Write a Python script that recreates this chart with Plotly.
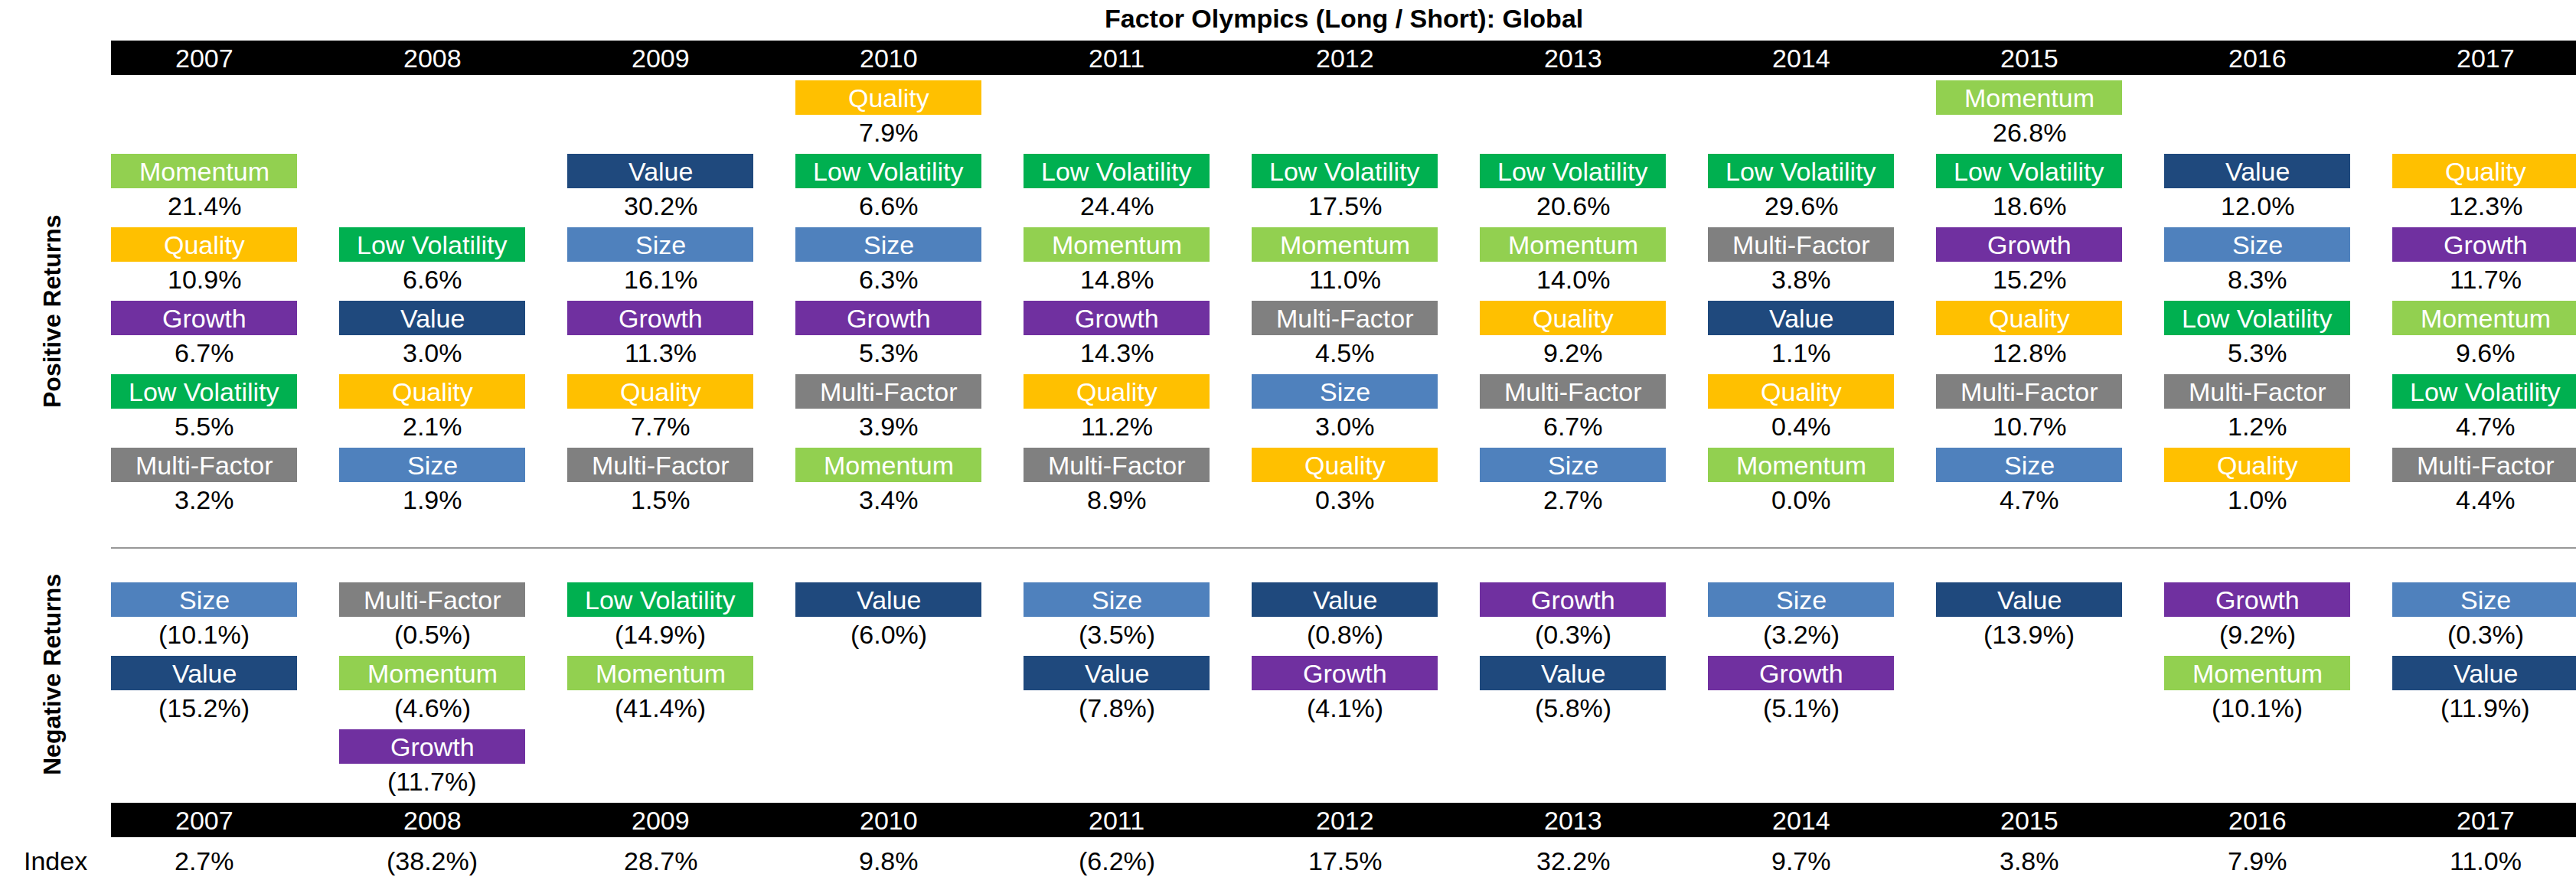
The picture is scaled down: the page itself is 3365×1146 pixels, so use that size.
import plotly.graph_objects as go

# ---------------- data ----------------
years = [2007, 2008, 2009, 2010, 2011, 2012, 2013, 2014, 2015, 2016, 2017]

pos_factors = [
    ["Momentum", "Quality", "Growth", "Low Volatility", "Multi-Factor"],
    ["Low Volatility", "Value", "Quality", "Size"],
    ["Value", "Size", "Growth", "Quality", "Multi-Factor"],
    ["Quality", "Low Volatility", "Size", "Growth", "Multi-Factor", "Momentum"],
    ["Low Volatility", "Momentum", "Growth", "Quality", "Multi-Factor"],
    ["Low Volatility", "Momentum", "Multi-Factor", "Size", "Quality"],
    ["Low Volatility", "Momentum", "Quality", "Multi-Factor", "Size"],
    ["Low Volatility", "Multi-Factor", "Value", "Quality", "Momentum"],
    ["Momentum", "Low Volatility", "Growth", "Quality", "Multi-Factor", "Size"],
    ["Value", "Size", "Low Volatility", "Multi-Factor", "Quality"],
    ["Quality", "Growth", "Momentum", "Low Volatility", "Multi-Factor"],
]
pos_values = [
    [21.4, 10.9, 6.7, 5.5, 3.2],
    [6.6, 3.0, 2.1, 1.9],
    [30.2, 16.1, 11.3, 7.7, 1.5],
    [7.9, 6.6, 6.3, 5.3, 3.9, 3.4],
    [24.4, 14.8, 14.3, 11.2, 8.9],
    [17.5, 11.0, 4.5, 3.0, 0.3],
    [20.6, 14.0, 9.2, 6.7, 2.7],
    [29.6, 3.8, 1.1, 0.4, 0.0],
    [26.8, 18.6, 15.2, 12.8, 10.7, 4.7],
    [12.0, 8.3, 5.3, 1.2, 1.0],
    [12.3, 11.7, 9.6, 4.7, 4.4],
]
neg_factors = [
    ["Size", "Value"],
    ["Multi-Factor", "Momentum", "Growth"],
    ["Low Volatility", "Momentum"],
    ["Value"],
    ["Size", "Value"],
    ["Value", "Growth"],
    ["Growth", "Value"],
    ["Size", "Growth"],
    ["Value"],
    ["Growth", "Momentum"],
    ["Size", "Value"],
]
neg_values = [
    [-10.1, -15.2],
    [-0.5, -4.6, -11.7],
    [-14.9, -41.4],
    [-6.0],
    [-3.5, -7.8],
    [-0.8, -4.1],
    [-0.3, -5.8],
    [-3.2, -5.1],
    [-13.9],
    [-9.2, -10.1],
    [-0.3, -11.9],
]
index_returns = [2.7, -38.2, 28.7, 9.8, -6.2, 17.5, 32.2, 9.7, 3.8, 7.9, 11.0]

factor_colors = {
    "Momentum": "#92D050",
    "Quality": "#FFC000",
    "Value": "#1F497D",
    "Low Volatility": "#00B050",
    "Size": "#4F81BD",
    "Growth": "#7030A0",
    "Multi-Factor": "#808080",
}

title = "Factor Olympics (Long / Short): Global"

# ---------------- layout constants ----------------
W, H = 3365, 1146
COL0_PX, COL_PITCH, BOX_W = 266.5, 298.0, 243.0
HEADER_TOP, HEADER_BOT = 53, 98
POS_TOP0, PITCH, BOX_H, VAL_OFF = 105, 96, 45, 68
N_POS_ROWS = 6
SEP_Y = 716
NEG_TOP0 = 761
FOOT_TOP, FOOT_BOT = 1049, 1094
INDEX_Y = 1125
FONT = "Liberation Sans, Arial, sans-serif"
FS = 34

x_min = -COL0_PX / COL_PITCH
x_max = (W - COL0_PX) / COL_PITCH
half = BOX_W / 2 / COL_PITCH
grid_left = -half


def fmt(v):
    return f"({abs(v):.1f}%)" if v < 0 else f"{v:.1f}%"


shapes = []
annotations = []


def add_box(i, top, factor, value):
    shapes.append(dict(type="rect", xref="x", yref="y", x0=i - half, x1=i + half,
                       y0=top, y1=top + BOX_H, fillcolor=factor_colors[factor],
                       line=dict(width=0), layer="below"))
    annotations.append(dict(x=i, y=top + BOX_H / 2, xref="x", yref="y", text=factor,
                            showarrow=False, font=dict(family=FONT, size=FS, color="white"),
                            xanchor="center", yanchor="middle"))
    annotations.append(dict(x=i, y=top + VAL_OFF, xref="x", yref="y", text=fmt(value),
                            showarrow=False, font=dict(family=FONT, size=FS, color="black"),
                            xanchor="center", yanchor="middle"))


for i, yr in enumerate(years):
    n = len(pos_factors[i])
    for j, (f, v) in enumerate(zip(pos_factors[i], pos_values[i])):
        row = N_POS_ROWS - n + j
        add_box(i, POS_TOP0 + row * PITCH, f, v)
    for j, (f, v) in enumerate(zip(neg_factors[i], neg_values[i])):
        add_box(i, NEG_TOP0 + j * PITCH, f, v)
    for yc in ((HEADER_TOP + HEADER_BOT) / 2, (FOOT_TOP + FOOT_BOT) / 2):
        annotations.append(dict(x=i, y=yc, xref="x", yref="y", text=str(yr), showarrow=False,
                                font=dict(family=FONT, size=FS, color="white"),
                                xanchor="center", yanchor="middle"))
    annotations.append(dict(x=i, y=INDEX_Y, xref="x", yref="y", text=fmt(index_returns[i]),
                            showarrow=False, font=dict(family=FONT, size=FS, color="black"),
                            xanchor="center", yanchor="middle"))

# header / footer bars
for y0, y1 in ((HEADER_TOP, HEADER_BOT), (FOOT_TOP, FOOT_BOT)):
    shapes.append(dict(type="rect", xref="x", yref="y", x0=grid_left, x1=x_max + 1,
                       y0=y0, y1=y1, fillcolor="black", line=dict(width=0), layer="below"))
# separator
shapes.append(dict(type="line", xref="x", yref="y", x0=grid_left, x1=x_max + 1,
                   y0=SEP_Y, y1=SEP_Y, line=dict(color="#333333", width=1.2)))

# title and side labels
annotations.append(dict(x=(grid_left + x_max) / 2, y=24, xref="x", yref="y",
                        text=f"<b>{title}</b>", showarrow=False,
                        font=dict(family=FONT, size=34, color="black"),
                        xanchor="center", yanchor="middle"))
label_x = (68 - COL0_PX) / COL_PITCH
annotations.append(dict(x=label_x, y=407, xref="x", yref="y", text="<b>Positive Returns</b>",
                        textangle=-90, showarrow=False,
                        font=dict(family=FONT, size=32, color="black"),
                        xanchor="center", yanchor="middle"))
annotations.append(dict(x=label_x, y=882, xref="x", yref="y", text="<b>Negative Returns</b>",
                        textangle=-90, showarrow=False,
                        font=dict(family=FONT, size=32, color="black"),
                        xanchor="center", yanchor="middle"))
annotations.append(dict(x=(72 - COL0_PX) / COL_PITCH, y=INDEX_Y, xref="x", yref="y", text="Index",
                        showarrow=False, font=dict(family=FONT, size=FS, color="black"),
                        xanchor="center", yanchor="middle"))

fig = go.Figure()
fig.add_trace(go.Scatter(x=[x_min, x_max], y=[0, H], mode="markers",
                         marker=dict(opacity=0), hoverinfo="skip", showlegend=False))
fig.update_layout(
    width=W, height=H, autosize=False,
    margin=dict(l=0, r=0, t=0, b=0, pad=0),
    paper_bgcolor="white", plot_bgcolor="white",
    xaxis=dict(range=[x_min, x_max], visible=False, fixedrange=True),
    yaxis=dict(range=[H, 0], visible=False, fixedrange=True),
    shapes=shapes, annotations=annotations, showlegend=False,
)
fig.write_html("out.html", config={"displayModeBar": False},
               post_script="document.body.style.margin='0';document.body.style.overflow='hidden';")
